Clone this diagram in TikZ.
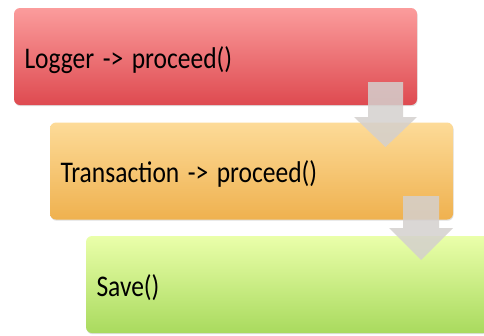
\documentclass[tikz,border=0pt]{standalone}
\usepackage{fontspec}
\setmainfont{Carlito}
\usetikzlibrary{shadows}
\definecolor{redtop}{HTML}{FB9C9C}
\definecolor{redbot}{HTML}{DE4A50}
\definecolor{orgtop}{HTML}{FDDB98}
\definecolor{orgbot}{HTML}{EFB14F}
\definecolor{grntop}{HTML}{EAFFAA}
\definecolor{grnbot}{HTML}{A9DA5E}
\definecolor{arrowfill}{HTML}{D4D0CE}
% narrow, tall lettering for the stage captions
\newcommand{\stagelabel}[1]{\scalebox{0.85}[1]{#1}}
\tikzset{
  stage/.style={rounded corners=6pt, minimum width=403pt, minimum height=97pt,
    text width=382pt, align=left, inner sep=0pt, text height=23pt, text depth=0pt,
    font=\fontsize{30}{36}\selectfont,
    drop shadow={shadow xshift=0.6pt, shadow yshift=-1.2pt, opacity=0.25}},
  blockarrow/.style={fill=arrowfill, fill opacity=0.85, draw=none}
}
\begin{document}
\begin{tikzpicture}[x=1pt,y=-1pt]
  \useasboundingbox (0,0) rectangle (484,335);
  \clip (0,0) rectangle (484,335);
  \fill[white] (0,0) rectangle (484,335);
  % three stages, each shifted right
  \node[stage, top color=redtop, bottom color=redbot] (logger) at (215.5,56.5) {\stagelabel{Logger -> proceed()}};
  \node[stage, top color=orgtop, bottom color=orgbot] (trans) at (251.5,171) {\stagelabel{Transaction -> proceed()}};
  \node[stage, top color=grntop, bottom color=grnbot] (save) at (287.5,284.5) {\stagelabel{Save()}};
  % block arrows leading down from one stage into the next
  \fill[blockarrow] (368,82) -- (403,82) -- (403,117) -- (417,117) -- (385.5,147)
    -- (354,117) -- (368,117) -- cycle;
  \fill[blockarrow] (403,196) -- (439,196) -- (439,228) -- (453,228) -- (421,260)
    -- (389,228) -- (403,228) -- cycle;
\end{tikzpicture}
\end{document}
